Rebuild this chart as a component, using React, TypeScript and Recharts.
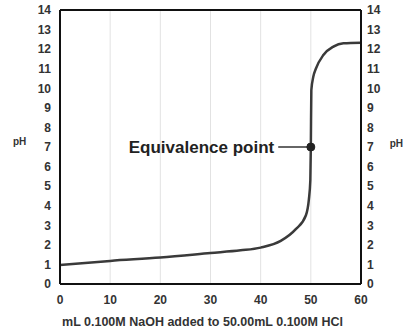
import React from 'react'
import { CartesianGrid, Line, LineChart, ReferenceDot, ReferenceLine, XAxis, YAxis } from 'recharts'

// Titration curve: 50.00 mL 0.100 M HCl titrated with 0.100 M NaOH
const volumes = [0, 10, 20, 30, 36, 40, 44, 47, 49, 49.6, 49.9, 50, 50.1, 50.5, 51, 52.5, 54.5, 56.5, 60]
const phValues = [0.97, 1.18, 1.35, 1.58, 1.72, 1.86, 2.2, 2.8, 3.5, 4.3, 5.3, 7, 9.9, 10.6, 11.0, 11.7, 12.13, 12.3, 12.33]

const xTicks = [0, 10, 20, 30, 40, 50, 60]
const yTicks = [0, 1, 2, 3, 4, 5, 6, 7, 8, 9, 10, 11, 12, 13, 14]
const xGrid = [10, 20, 30, 40, 50]
const yGrid = [2, 4, 6, 8, 10, 12]

const equivalence = { volume: 50, ph: 7, label: 'Equivalence point' }
const xTitle = 'mL 0.100M NaOH added to 50.00mL 0.100M HCl'

const data = volumes.map((v, i) => ({ v, ph: phValues[i] }))

const font = '"Liberation Sans", Arial, sans-serif'
const tickStyle = { fontFamily: font, fontSize: 12, fontWeight: 700, fill: '#333' }

export default function App() {
  return (
    <div style={{ position: 'absolute', left: 0, top: 0, background: '#fff' }}>
      <LineChart width={404} height={332} data={data} margin={{ top: 10, right: 0, left: 0, bottom: 0 }}>
        <CartesianGrid
          stroke='#e2e2e2'
          strokeWidth={1}
          horizontalValues={yGrid}
          verticalValues={xGrid}
        />
        <XAxis
          dataKey='v'
          type='number'
          domain={[0, 60]}
          ticks={xTicks}
          height={48}
          stroke='#111'
          strokeWidth={2}
          tickLine={false}
          tickSize={0}
          tickMargin={11}
          tick={tickStyle}
          label={{
            value: xTitle,
            position: 'insideBottom',
            offset: 6,
            dx: -8,
            style: { fontFamily: font, fontSize: 12.5, fontWeight: 700, fill: '#333' }
          }}
        />
        <YAxis
          yAxisId='left'
          type='number'
          domain={[0, 14]}
          ticks={yTicks}
          interval={0}
          width={60}
          stroke='#111'
          strokeWidth={2}
          tickLine={false}
          tickSize={0}
          tickMargin={9}
          tick={tickStyle}
          label={{
            value: 'pH',
            position: 'insideLeft',
            offset: 13,
            dy: -6,
            style: { fontFamily: font, fontSize: 10, fontWeight: 700, fill: '#333' }
          }}
        />
        <YAxis
          yAxisId='right'
          orientation='right'
          type='number'
          domain={[0, 14]}
          ticks={yTicks}
          interval={0}
          width={43}
          stroke='#111'
          strokeWidth={2}
          tickLine={false}
          tickSize={0}
          tickMargin={6}
          tick={tickStyle}
          label={{
            value: 'pH',
            position: 'insideRight',
            offset: 1,
            dy: -4,
            style: { fontFamily: font, fontSize: 10, fontWeight: 700, fill: '#333' }
          }}
        />
        <ReferenceLine yAxisId='left' y={14} stroke='#111' strokeWidth={2} />
        {/* same curve against the right-hand pH axis, kept invisible so that axis is drawn */}
        <Line
          yAxisId='right'
          dataKey='ph'
          type='monotone'
          stroke='none'
          dot={false}
          activeDot={false}
          legendType='none'
          isAnimationActive={false}
        />
        <Line
          yAxisId='left'
          dataKey='ph'
          type='monotone'
          stroke='#3a3a3a'
          strokeWidth={2.5}
          dot={false}
          isAnimationActive={false}
        />
        <ReferenceLine
          yAxisId='left'
          segment={[
            { x: 43.5, y: equivalence.ph },
            { x: 49.3, y: equivalence.ph }
          ]}
          stroke='#333'
          strokeWidth={1.5}
        />
        <ReferenceDot
          yAxisId='left'
          x={43.3}
          y={equivalence.ph}
          r={0}
          stroke='none'
          label={{
            value: equivalence.label,
            position: 'left',
            offset: 3,
            style: { fontFamily: font, fontSize: 17, fontWeight: 700, fill: '#222' }
          }}
        />
        <ReferenceDot
          yAxisId='left'
          x={equivalence.volume}
          y={equivalence.ph}
          r={4}
          fill='#222'
          stroke='#222'
        />
      </LineChart>
    </div>
  )
}
